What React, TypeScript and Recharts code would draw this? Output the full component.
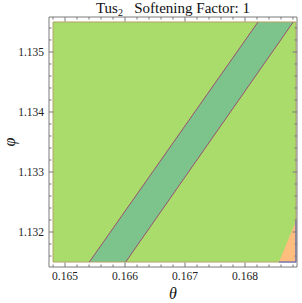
import React from 'react';
import { ComposedChart, Area, Line, XAxis, YAxis } from 'recharts';

// axis ticks (Mathematica-style frame: majors labelled, minors plain)
const thetaMajor = [0.165, 0.166, 0.167, 0.168];
const thetaMinor = [
  0.1648, 0.1652, 0.1654, 0.1656, 0.1658, 0.1662, 0.1664, 0.1666, 0.1668,
  0.1672, 0.1674, 0.1676, 0.1678, 0.1682, 0.1684, 0.1686, 0.1688,
];
const phiMajor = [1.132, 1.133, 1.134, 1.135];
const phiMinor = [
  1.1316, 1.1318, 1.1322, 1.1324, 1.1326, 1.1328, 1.1332, 1.1334, 1.1336,
  1.1338, 1.1342, 1.1344, 1.1346, 1.1348, 1.1352, 1.1354,
];

// frame extents and the plotted region inside it
const thetaFrame = [0.164733, 0.168867];
const phiFrame = [1.131417, 1.135583];
const thetaRange = [0.1648, 0.16885];
const phiRange = [1.1315, 1.1355];

// contour regions
const background = [
  { theta: thetaRange[0], fill: [phiRange[0], phiRange[1]] },
  { theta: thetaRange[1], fill: [phiRange[0], phiRange[1]] },
];
const band = [
  { theta: 0.165405, fill: [1.1315, 1.1315] },
  { theta: 0.166011, fill: [1.1315, 1.132362] },
  { theta: 0.168217, fill: [1.134658, 1.1355] },
  { theta: 0.168805, fill: [1.1355, 1.1355] },
];
const corner = [
  { theta: 0.168567, fill: [1.1315, 1.1315] },
  { theta: 0.16885, fill: [1.1315, 1.132183] },
];

// contour lines
const leftContour = [
  { theta: 0.165405, phi: 1.1315 },
  { theta: 0.168217, phi: 1.1355 },
];
const rightContour = [
  { theta: 0.166011, phi: 1.1315 },
  { theta: 0.168805, phi: 1.1355 },
];
const cornerEdge = [
  { theta: 0.168567, phi: 1.1315 },
  { theta: 0.16885, phi: 1.1315 },
  { theta: 0.16885, phi: 1.132183 },
];
const border = [
  { theta: thetaRange[0], phi: phiRange[0] },
  { theta: thetaRange[0], phi: phiRange[1] },
  { theta: thetaRange[1], phi: phiRange[1] },
  { theta: thetaRange[1], phi: phiRange[0] },
  { theta: thetaRange[0], phi: phiRange[0] },
];

const FONT = '"Liberation Serif", "Times New Roman", serif';
const FRAME = '#7a7a7a';

const FrameTick = (props: any) => {
  const { x, y, payload, side, majors } = props;
  const major = majors.includes(payload.value);
  const len = major ? 4.5 : 2.5;
  let x2 = x;
  let y2 = y;
  if (side === 'bottom') y2 = y - len;
  if (side === 'top') y2 = y + len;
  if (side === 'left') x2 = x + len;
  if (side === 'right') x2 = x - len;
  const label = { fontFamily: FONT, fontSize: 11.5, fill: '#222' };
  return (
    <g>
      <line x1={x} y1={y} x2={x2} y2={y2} stroke={FRAME} strokeWidth={1} />
      {major && side === 'bottom' && (
        <text x={x} y={y + 13} textAnchor="middle" style={label}>
          {String(payload.value)}
        </text>
      )}
      {major && side === 'left' && (
        <text x={x - 5} y={y + 4} textAnchor="end" style={label}>
          {String(payload.value)}
        </text>
      )}
    </g>
  );
};

const thetaTicks = [...thetaMajor, ...thetaMinor].sort((a, b) => a - b);
const phiTicks = [...phiMajor, ...phiMinor].sort((a, b) => a - b);

export default function App() {
  return (
    <div style={{ position: 'absolute', left: 0, top: 0, width: 302, height: 303, background: '#fff' }}>
      <ComposedChart width={302} height={303} margin={{ top: 0, right: 0, bottom: 0, left: 0 }}>
        <XAxis
          xAxisId="b"
          dataKey="theta"
          type="number"
          orientation="bottom"
          height={36}
          domain={thetaFrame}
          allowDataOverflow
          ticks={thetaTicks}
          interval={0}
          tickSize={0}
          tickMargin={0}
          tickLine={false}
          axisLine={{ stroke: FRAME }}
          tick={(p: any) => <FrameTick {...p} side="bottom" majors={thetaMajor} />}
        />
        <XAxis
          xAxisId="t"
          dataKey="theta"
          type="number"
          orientation="top"
          height={17}
          domain={thetaFrame}
          allowDataOverflow
          ticks={thetaTicks}
          interval={0}
          tickSize={0}
          tickMargin={0}
          tickLine={false}
          axisLine={{ stroke: FRAME }}
          tick={(p: any) => <FrameTick {...p} side="top" majors={thetaMajor} />}
        />
        <YAxis
          yAxisId="l"
          type="number"
          orientation="left"
          width={49}
          domain={phiFrame}
          allowDataOverflow
          ticks={phiTicks}
          interval={0}
          tickSize={0}
          tickMargin={0}
          tickLine={false}
          axisLine={{ stroke: FRAME }}
          tick={(p: any) => <FrameTick {...p} side="left" majors={phiMajor} />}
        />
        <YAxis
          yAxisId="r"
          type="number"
          orientation="right"
          width={5}
          domain={phiFrame}
          allowDataOverflow
          ticks={phiTicks}
          interval={0}
          tickSize={0}
          tickMargin={0}
          tickLine={false}
          axisLine={{ stroke: FRAME }}
          tick={(p: any) => <FrameTick {...p} side="right" majors={phiMajor} />}
        />
        <Area xAxisId="b" yAxisId="l" data={background} dataKey="fill" type="linear"
          fill="#a9dc6b" fillOpacity={1} stroke="none" isAnimationActive={false} />
        <Area xAxisId="b" yAxisId="l" data={band} dataKey="fill" type="linear"
          fill="#7cc48b" fillOpacity={1} stroke="none" isAnimationActive={false} />
        <Area xAxisId="b" yAxisId="l" data={corner} dataKey="fill" type="linear"
          fill="#ffbe7e" fillOpacity={1} stroke="none" isAnimationActive={false} />
        <Line xAxisId="b" yAxisId="l" data={border} dataKey="phi" type="linear"
          stroke="#b4a26a" strokeWidth={1} dot={false} activeDot={false} isAnimationActive={false} />
        <Line xAxisId="b" yAxisId="l" data={leftContour} dataKey="phi" type="linear"
          stroke="#9a4f72" strokeWidth={1} dot={false} activeDot={false} isAnimationActive={false} />
        <Line xAxisId="b" yAxisId="l" data={rightContour} dataKey="phi" type="linear"
          stroke="#9a4f72" strokeWidth={1} dot={false} activeDot={false} isAnimationActive={false} />
        <Line xAxisId="b" yAxisId="l" data={cornerEdge} dataKey="phi" type="linear"
          stroke="#5a5ad0" strokeWidth={1} dot={false} activeDot={false} isAnimationActive={false} />
      </ComposedChart>
      <div style={{ position: 'absolute', left: 49, top: 0, width: 248, textAlign: 'center',
        fontFamily: FONT, fontSize: 15, lineHeight: '17px', color: '#111', whiteSpace: 'pre' }}>
        Tus<span style={{ fontSize: 10, position: 'relative', top: 3 }}>2</span>{'   '}Softening Factor: 1
      </div>
      <div style={{ position: 'absolute', left: 49, top: 285, width: 248, textAlign: 'center',
        fontFamily: FONT, fontSize: 16, fontStyle: 'italic', lineHeight: '17px', color: '#111' }}>
        θ
      </div>
      <div style={{ position: 'absolute', left: 0, top: 132, width: 20, height: 20, textAlign: 'center',
        fontFamily: FONT, fontSize: 16, fontStyle: 'italic', lineHeight: '20px', color: '#111',
        transform: 'rotate(-90deg)' }}>
        φ
      </div>
    </div>
  );
}
